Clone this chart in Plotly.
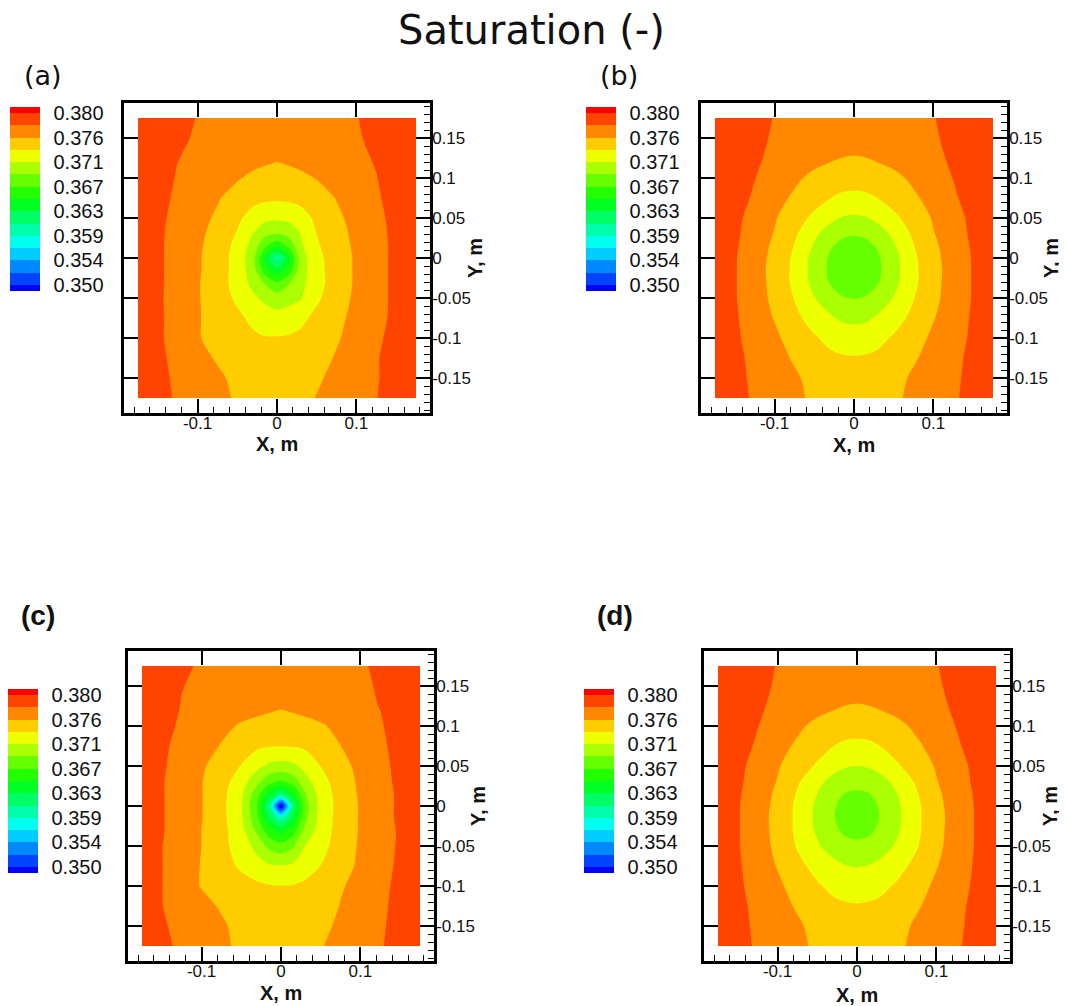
import plotly.graph_objects as go

# ---------------- data ----------------
GRID_X = [-0.175, -0.15, -0.125, -0.1, -0.075, -0.05, -0.03, -0.015, 0.0,
          0.015, 0.03, 0.05, 0.075, 0.1, 0.125, 0.15, 0.175]
GRID_Y = [-0.175, -0.15, -0.125, -0.1, -0.075, -0.05, -0.03, -0.015, 0.0,
          0.015, 0.03, 0.05, 0.075, 0.1, 0.125, 0.15, 0.175]

# rows: y from -0.175 (bottom) to 0.175 (top); columns: x from -0.175 to 0.175
SAT_A = [
    [0.3791,0.3785,0.3776,0.3769,0.3762,0.3755,0.3750,0.3748,0.3747,0.3748,0.3751,0.3758,0.3764,0.3771,0.3778,0.3788,0.3791],
    [0.3790,0.3784,0.3775,0.3768,0.3761,0.3752,0.3747,0.3745,0.3744,0.3745,0.3748,0.3754,0.3763,0.3770,0.3777,0.3787,0.3791],
    [0.3789,0.3783,0.3773,0.3764,0.3755,0.3747,0.3743,0.3742,0.3741,0.3742,0.3744,0.3749,0.3759,0.3768,0.3777,0.3787,0.3791],
    [0.3789,0.3782,0.3771,0.3759,0.3749,0.3743,0.3739,0.3737,0.3737,0.3738,0.3740,0.3745,0.3755,0.3765,0.3775,0.3785,0.3790],
    [0.3789,0.3782,0.3771,0.3759,0.3749,0.3740,0.3731,0.3724,0.3722,0.3724,0.3731,0.3741,0.3752,0.3763,0.3773,0.3783,0.3789],
    [0.3789,0.3782,0.3770,0.3759,0.3746,0.3732,0.3718,0.3710,0.3703,0.3708,0.3713,0.3732,0.3748,0.3761,0.3772,0.3783,0.3789],
    [0.3789,0.3782,0.3771,0.3759,0.3745,0.3728,0.3707,0.3690,0.3671,0.3690,0.3708,0.3728,0.3746,0.3760,0.3772,0.3783,0.3789],
    [0.3789,0.3782,0.3771,0.3760,0.3746,0.3728,0.3703,0.3658,0.3635,0.3659,0.3705,0.3729,0.3746,0.3760,0.3772,0.3783,0.3789],
    [0.3789,0.3782,0.3771,0.3760,0.3746,0.3728,0.3701,0.3644,0.3598,0.3642,0.3705,0.3730,0.3746,0.3760,0.3772,0.3783,0.3789],
    [0.3790,0.3782,0.3771,0.3761,0.3747,0.3730,0.3706,0.3674,0.3655,0.3676,0.3711,0.3733,0.3748,0.3761,0.3772,0.3783,0.3790],
    [0.3790,0.3782,0.3772,0.3762,0.3750,0.3734,0.3714,0.3698,0.3693,0.3699,0.3715,0.3736,0.3750,0.3762,0.3773,0.3783,0.3790],
    [0.3790,0.3783,0.3773,0.3764,0.3754,0.3740,0.3727,0.3720,0.3718,0.3720,0.3727,0.3740,0.3753,0.3764,0.3774,0.3784,0.3790],
    [0.3790,0.3785,0.3775,0.3767,0.3759,0.3749,0.3742,0.3740,0.3739,0.3740,0.3742,0.3748,0.3758,0.3767,0.3776,0.3786,0.3790],
    [0.3791,0.3787,0.3777,0.3771,0.3765,0.3759,0.3753,0.3751,0.3750,0.3751,0.3753,0.3758,0.3765,0.3771,0.3778,0.3788,0.3791],
    [0.3792,0.3786,0.3779,0.3775,0.3771,0.3767,0.3764,0.3761,0.3759,0.3761,0.3764,0.3767,0.3771,0.3775,0.3780,0.3787,0.3792],
    [0.3793,0.3788,0.3781,0.3777,0.3773,0.3770,0.3768,0.3766,0.3764,0.3766,0.3768,0.3770,0.3773,0.3777,0.3782,0.3788,0.3793],
    [0.3794,0.3789,0.3783,0.3778,0.3776,0.3773,0.3771,0.3769,0.3768,0.3769,0.3771,0.3773,0.3776,0.3778,0.3783,0.3789,0.3794],
]

SAT_B = [
    [0.3791,0.3785,0.3776,0.3768,0.3761,0.3754,0.3750,0.3749,0.3748,0.3749,0.3750,0.3754,0.3761,0.3768,0.3776,0.3785,0.3791],
    [0.3790,0.3784,0.3775,0.3767,0.3760,0.3751,0.3746,0.3743,0.3743,0.3743,0.3746,0.3751,0.3760,0.3767,0.3775,0.3784,0.3790],
    [0.3790,0.3783,0.3774,0.3764,0.3755,0.3745,0.3740,0.3738,0.3737,0.3738,0.3740,0.3745,0.3755,0.3764,0.3774,0.3783,0.3790],
    [0.3789,0.3782,0.3771,0.3761,0.3749,0.3738,0.3730,0.3726,0.3725,0.3726,0.3730,0.3738,0.3749,0.3761,0.3771,0.3782,0.3789],
    [0.3789,0.3781,0.3769,0.3756,0.3741,0.3727,0.3717,0.3711,0.3709,0.3711,0.3717,0.3727,0.3741,0.3756,0.3769,0.3781,0.3789],
    [0.3789,0.3780,0.3767,0.3752,0.3735,0.3715,0.3703,0.3694,0.3692,0.3694,0.3703,0.3715,0.3735,0.3752,0.3767,0.3780,0.3789],
    [0.3789,0.3780,0.3766,0.3751,0.3731,0.3708,0.3691,0.3685,0.3683,0.3685,0.3691,0.3708,0.3731,0.3751,0.3766,0.3780,0.3789],
    [0.3789,0.3780,0.3766,0.3750,0.3731,0.3706,0.3689,0.3683,0.3681,0.3683,0.3689,0.3706,0.3731,0.3750,0.3766,0.3780,0.3789],
    [0.3789,0.3780,0.3767,0.3751,0.3732,0.3707,0.3690,0.3684,0.3682,0.3684,0.3690,0.3707,0.3732,0.3751,0.3767,0.3780,0.3789],
    [0.3790,0.3781,0.3768,0.3753,0.3735,0.3712,0.3695,0.3688,0.3686,0.3688,0.3695,0.3712,0.3735,0.3753,0.3768,0.3781,0.3790],
    [0.3790,0.3782,0.3770,0.3756,0.3739,0.3719,0.3703,0.3696,0.3694,0.3696,0.3703,0.3719,0.3739,0.3756,0.3770,0.3782,0.3790],
    [0.3790,0.3783,0.3772,0.3759,0.3745,0.3731,0.3720,0.3713,0.3711,0.3713,0.3720,0.3731,0.3745,0.3759,0.3772,0.3783,0.3790],
    [0.3791,0.3786,0.3776,0.3764,0.3754,0.3744,0.3736,0.3732,0.3731,0.3732,0.3736,0.3744,0.3754,0.3764,0.3776,0.3786,0.3791],
    [0.3791,0.3785,0.3779,0.3770,0.3761,0.3752,0.3747,0.3745,0.3744,0.3745,0.3747,0.3752,0.3761,0.3770,0.3779,0.3785,0.3791],
    [0.3792,0.3787,0.3781,0.3775,0.3769,0.3764,0.3760,0.3757,0.3756,0.3757,0.3760,0.3764,0.3769,0.3775,0.3781,0.3787,0.3792],
    [0.3793,0.3788,0.3782,0.3777,0.3774,0.3771,0.3769,0.3767,0.3765,0.3767,0.3769,0.3771,0.3774,0.3777,0.3782,0.3788,0.3793],
    [0.3794,0.3789,0.3783,0.3778,0.3776,0.3774,0.3772,0.3771,0.3770,0.3771,0.3772,0.3774,0.3776,0.3778,0.3783,0.3789,0.3794],
]

SAT_C = [
    [0.3790,0.3783,0.3775,0.3768,0.3761,0.3753,0.3749,0.3747,0.3746,0.3747,0.3750,0.3756,0.3763,0.3770,0.3777,0.3786,0.3791],
    [0.3789,0.3781,0.3773,0.3766,0.3760,0.3751,0.3745,0.3743,0.3742,0.3743,0.3746,0.3752,0.3761,0.3768,0.3776,0.3785,0.3790],
    [0.3788,0.3779,0.3771,0.3763,0.3755,0.3746,0.3741,0.3739,0.3738,0.3739,0.3741,0.3747,0.3758,0.3767,0.3775,0.3784,0.3790],
    [0.3789,0.3779,0.3767,0.3756,0.3750,0.3745,0.3740,0.3737,0.3736,0.3737,0.3741,0.3747,0.3755,0.3764,0.3774,0.3783,0.3789],
    [0.3789,0.3779,0.3768,0.3756,0.3745,0.3732,0.3722,0.3717,0.3716,0.3718,0.3723,0.3736,0.3749,0.3761,0.3772,0.3782,0.3789],
    [0.3789,0.3779,0.3768,0.3757,0.3742,0.3726,0.3708,0.3687,0.3679,0.3690,0.3714,0.3729,0.3745,0.3760,0.3771,0.3781,0.3789],
    [0.3789,0.3780,0.3769,0.3757,0.3743,0.3721,0.3687,0.3657,0.3641,0.3660,0.3697,0.3725,0.3744,0.3759,0.3770,0.3781,0.3789],
    [0.3789,0.3780,0.3769,0.3758,0.3742,0.3718,0.3676,0.3629,0.3594,0.3632,0.3687,0.3723,0.3744,0.3759,0.3771,0.3782,0.3789],
    [0.3789,0.3780,0.3769,0.3758,0.3742,0.3717,0.3671,0.3607,0.3475,0.3612,0.3682,0.3722,0.3743,0.3759,0.3771,0.3782,0.3789],
    [0.3789,0.3780,0.3769,0.3758,0.3742,0.3719,0.3680,0.3641,0.3612,0.3645,0.3690,0.3724,0.3744,0.3760,0.3771,0.3782,0.3789],
    [0.3789,0.3780,0.3769,0.3758,0.3744,0.3725,0.3698,0.3678,0.3667,0.3680,0.3705,0.3728,0.3746,0.3761,0.3772,0.3783,0.3789],
    [0.3789,0.3781,0.3771,0.3760,0.3748,0.3735,0.3720,0.3710,0.3707,0.3710,0.3721,0.3736,0.3750,0.3763,0.3773,0.3784,0.3790],
    [0.3789,0.3782,0.3773,0.3765,0.3756,0.3745,0.3739,0.3737,0.3736,0.3737,0.3739,0.3745,0.3757,0.3766,0.3775,0.3785,0.3790],
    [0.3790,0.3784,0.3776,0.3769,0.3762,0.3755,0.3751,0.3750,0.3749,0.3750,0.3751,0.3755,0.3762,0.3770,0.3777,0.3786,0.3791],
    [0.3791,0.3785,0.3778,0.3774,0.3770,0.3766,0.3764,0.3761,0.3759,0.3761,0.3764,0.3767,0.3771,0.3775,0.3779,0.3787,0.3792],
    [0.3792,0.3786,0.3779,0.3776,0.3772,0.3769,0.3767,0.3765,0.3763,0.3765,0.3767,0.3769,0.3772,0.3776,0.3780,0.3787,0.3792],
    [0.3793,0.3788,0.3781,0.3777,0.3775,0.3772,0.3770,0.3769,0.3768,0.3769,0.3770,0.3772,0.3775,0.3777,0.3781,0.3788,0.3793],
]

SAT_D = [
    [0.3791,0.3785,0.3776,0.3768,0.3761,0.3754,0.3750,0.3749,0.3748,0.3749,0.3750,0.3754,0.3761,0.3768,0.3776,0.3785,0.3791],
    [0.3790,0.3784,0.3775,0.3767,0.3760,0.3751,0.3746,0.3743,0.3743,0.3743,0.3746,0.3751,0.3760,0.3767,0.3775,0.3784,0.3790],
    [0.3790,0.3783,0.3774,0.3764,0.3755,0.3745,0.3740,0.3738,0.3737,0.3738,0.3740,0.3745,0.3755,0.3764,0.3774,0.3783,0.3790],
    [0.3789,0.3782,0.3771,0.3761,0.3749,0.3738,0.3731,0.3728,0.3727,0.3728,0.3731,0.3738,0.3749,0.3761,0.3771,0.3782,0.3789],
    [0.3789,0.3781,0.3769,0.3756,0.3741,0.3729,0.3721,0.3715,0.3713,0.3715,0.3721,0.3729,0.3741,0.3756,0.3769,0.3781,0.3789],
    [0.3789,0.3780,0.3767,0.3752,0.3734,0.3717,0.3704,0.3699,0.3697,0.3699,0.3704,0.3717,0.3734,0.3752,0.3767,0.3780,0.3789],
    [0.3789,0.3780,0.3766,0.3751,0.3731,0.3711,0.3697,0.3689,0.3687,0.3689,0.3697,0.3711,0.3731,0.3751,0.3766,0.3780,0.3789],
    [0.3789,0.3780,0.3766,0.3750,0.3731,0.3709,0.3694,0.3686,0.3684,0.3686,0.3694,0.3709,0.3731,0.3750,0.3766,0.3780,0.3789],
    [0.3789,0.3780,0.3767,0.3751,0.3731,0.3710,0.3695,0.3687,0.3685,0.3687,0.3695,0.3710,0.3731,0.3751,0.3767,0.3780,0.3789],
    [0.3790,0.3781,0.3768,0.3753,0.3734,0.3714,0.3701,0.3692,0.3690,0.3692,0.3701,0.3714,0.3734,0.3753,0.3768,0.3781,0.3790],
    [0.3790,0.3782,0.3770,0.3756,0.3738,0.3720,0.3707,0.3702,0.3700,0.3702,0.3707,0.3720,0.3738,0.3756,0.3770,0.3782,0.3790],
    [0.3790,0.3783,0.3772,0.3759,0.3746,0.3733,0.3722,0.3716,0.3714,0.3716,0.3722,0.3733,0.3746,0.3759,0.3772,0.3783,0.3790],
    [0.3791,0.3786,0.3776,0.3764,0.3754,0.3744,0.3736,0.3732,0.3731,0.3732,0.3736,0.3744,0.3754,0.3764,0.3776,0.3786,0.3791],
    [0.3791,0.3785,0.3779,0.3770,0.3761,0.3752,0.3747,0.3745,0.3744,0.3745,0.3747,0.3752,0.3761,0.3770,0.3779,0.3785,0.3791],
    [0.3792,0.3787,0.3781,0.3775,0.3769,0.3764,0.3760,0.3757,0.3756,0.3757,0.3760,0.3764,0.3769,0.3775,0.3781,0.3787,0.3792],
    [0.3793,0.3788,0.3782,0.3777,0.3774,0.3771,0.3769,0.3767,0.3765,0.3767,0.3769,0.3771,0.3774,0.3777,0.3782,0.3788,0.3793],
    [0.3794,0.3789,0.3783,0.3778,0.3776,0.3774,0.3772,0.3771,0.3770,0.3771,0.3772,0.3774,0.3776,0.3778,0.3783,0.3789,0.3794],
]

LEVEL_START = 0.350
LEVEL_END = 0.380
N_BANDS = 14
LEGEND_VALUES = [0.350, 0.3542857, 0.3585714, 0.3628571, 0.3671429, 0.3714286, 0.3757143, 0.380]
LEGEND_LABELS = ["0.350", "0.354", "0.359", "0.363", "0.367", "0.371", "0.376", "0.380"]
X_TICKS = [-0.1, 0.0, 0.1]
X_TICK_LABELS = ["-0.1", "0", "0.1"]
Y_TICKS = [-0.15, -0.1, -0.05, 0.0, 0.05, 0.1, 0.15]
Y_TICK_LABELS = ["-0.15", "-0.1", "-0.05", "0", "0.05", "0.1", "0.15"]
PANEL_LABELS = ["(a)", "(b)", "(c)", "(d)"]
TITLE = "Saturation (-)"
X_TITLE = "X, m"
Y_TITLE = "Y, m"

# ---------------- styling / layout ----------------
# the page body has an 8 px margin: pixel positions below are in figure coordinates
# (window position minus 8); the figure is made large enough that nothing is clipped
W, H = 1059, 998
X_RANGE = [-0.192626, 0.192626]
Y_RANGE = [-0.19375, 0.19375]
RAINBOW = [[0.0, "rgb(0,0,255)"], [0.25, "rgb(0,255,255)"], [0.5, "rgb(0,255,0)"],
           [0.75, "rgb(255,255,0)"], [1.0, "rgb(255,0,0)"]]
SANS = "Liberation Sans, Arial, sans-serif"
TITLE_FONT = "DejaVu Sans, Verdana, sans-serif"

# frame = (left, right, top, bottom) in pixels
panels = [
    dict(z=SAT_A, frame=(116, 422, 95, 405), cbar=(2, 191), label=(35, 67), bold=False,
         xt=(269, 436), yt=(467, 250), smooth=0.8),
    dict(z=SAT_B, frame=(693, 999, 95, 405), cbar=(578, 191), label=(611, 67), bold=False,
         xt=(846, 437), yt=(1043, 250), smooth=1.0),
    dict(z=SAT_C, frame=(120, 426, 643, 953), cbar=(0, 773), label=(30, 607), bold=True,
         xt=(273, 985), yt=(470, 798), smooth=0.8),
    dict(z=SAT_D, frame=(696, 1002, 643, 953), cbar=(576, 773), label=(607, 607), bold=True,
         xt=(849, 987), yt=(1042, 798), smooth=1.0),
]

fig = go.Figure()
layout = {}
annotations = []
common = dict(showgrid=False, zeroline=False, showline=True, linecolor="black", linewidth=2.5,
              ticks="inside", ticklen=14, tickwidth=1.5, tickcolor="black", fixedrange=True)
tickfont = dict(family=SANS, size=17, color="#111")

for i, p in enumerate(panels):
    n = i + 1
    xa = "x" if n == 1 else f"x{n}"
    ya = "y" if n == 1 else f"y{n}"
    xo, yo = f"x{n + 4}", f"y{n + 4}"
    x0, x1, y0, y1 = p["frame"]
    cx, cy = p["cbar"]
    fig.add_trace(go.Contour(
        x=GRID_X, y=GRID_Y, z=p["z"], xaxis=xa, yaxis=ya,
        colorscale=RAINBOW, autocontour=False,
        contours=dict(start=LEVEL_START, end=LEVEL_END, size=(LEVEL_END - LEVEL_START) / N_BANDS,
                      coloring="fill", showlines=False),
        line=dict(width=0, smoothing=p["smooth"]),
        hoverinfo="skip",
        colorbar=dict(x=cx / W, xanchor="left", xpad=0, y=1 - cy / H, yanchor="middle", ypad=0,
                      len=184, lenmode="pixels", thickness=30, thicknessmode="pixels",
                      outlinewidth=0, tickmode="array", tickvals=LEGEND_VALUES, ticktext=LEGEND_LABELS,
                      ticks="outside", ticklen=10, tickcolor="rgba(0,0,0,0)",
                      tickfont=dict(family=SANS, size=20, color="#111")),
    ))
    fig.add_trace(go.Scatter(x=[], y=[], xaxis=xo, yaxis=ya, showlegend=False, hoverinfo="skip"))
    fig.add_trace(go.Scatter(x=[], y=[], xaxis=xa, yaxis=yo, showlegend=False, hoverinfo="skip"))

    layout["xaxis" + ("" if n == 1 else str(n))] = dict(
        domain=[x0 / W, x1 / W], range=X_RANGE, anchor=ya, side="bottom",
        tickmode="array", tickvals=X_TICKS, ticktext=X_TICK_LABELS, tickfont=tickfont,
        ticklabelstandoff=-7,
        minor=dict(ticks="inside", ticklen=6, tickwidth=1, tickcolor="black",
                   tickmode="linear", tick0=0, dtick=0.02), **common)
    layout["yaxis" + ("" if n == 1 else str(n))] = dict(
        domain=[1 - y1 / H, 1 - y0 / H], range=Y_RANGE, anchor=xa, side="right",
        tickmode="array", tickvals=Y_TICKS, ticktext=Y_TICK_LABELS, tickfont=tickfont,
        ticklabelstandoff=-4,
        minor=dict(ticks="inside", ticklen=6, tickwidth=1, tickcolor="black",
                   tickmode="linear", tick0=0, dtick=0.01), **common)
    layout[f"xaxis{n + 4}"] = dict(overlaying=xa, anchor=ya, side="top", range=X_RANGE,
                                   tickmode="array", tickvals=X_TICKS, showticklabels=False, **common)
    layout[f"yaxis{n + 4}"] = dict(overlaying=ya, anchor=xa, side="left", range=Y_RANGE,
                                   tickmode="array", tickvals=Y_TICKS, showticklabels=False, **common)

    lx, ly = p["label"]
    annotations.append(dict(text=f"<b>{PANEL_LABELS[i]}</b>" if p["bold"] else PANEL_LABELS[i],
                            x=lx / W, y=1 - ly / H, xref="paper", yref="paper", showarrow=False,
                            xanchor="center", yanchor="middle",
                            font=dict(family=SANS if p["bold"] else TITLE_FONT,
                                      size=28 if p["bold"] else 27, color="#111")))
    tx, ty = p["xt"]
    annotations.append(dict(text=f"<b>{X_TITLE}</b>", x=tx / W, y=1 - ty / H, xref="paper", yref="paper",
                            showarrow=False, xanchor="center", yanchor="middle",
                            font=dict(family=SANS, size=20, color="#111")))
    tx, ty = p["yt"]
    annotations.append(dict(text=f"<b>{Y_TITLE}</b>", x=tx / W, y=1 - ty / H, xref="paper", yref="paper",
                            showarrow=False, xanchor="center", yanchor="middle", textangle=-90,
                            font=dict(family=SANS, size=20, color="#111")))

annotations.append(dict(text=TITLE, x=523.5 / W, y=1 - 22 / H, xref="paper", yref="paper",
                        showarrow=False, xanchor="center", yanchor="middle",
                        font=dict(family=TITLE_FONT, size=40, color="#111")))

fig.update_layout(width=W, height=H, margin=dict(l=0, r=0, t=0, b=0),
                  paper_bgcolor="white", plot_bgcolor="white", showlegend=False,
                  annotations=annotations, **layout)

fig.write_html("out.html")
